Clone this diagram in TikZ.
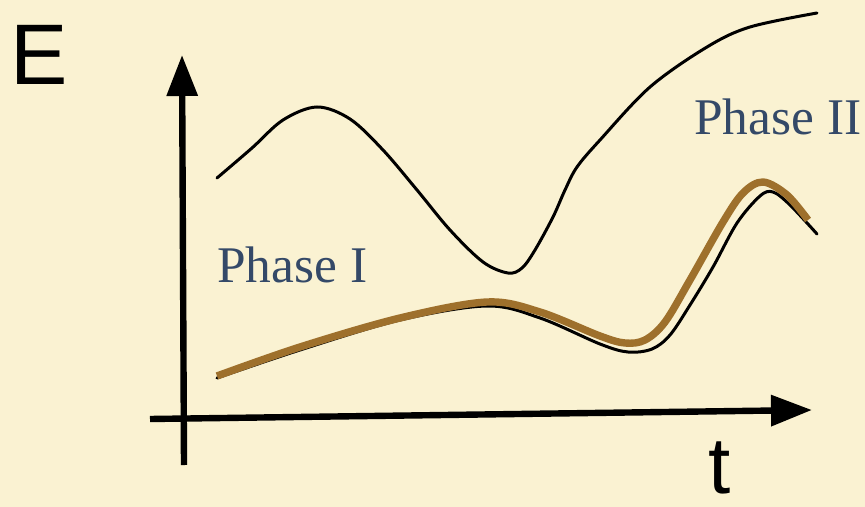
\documentclass[tikz,border=0pt]{standalone}
\usepackage{fontspec}
\setmainfont{Liberation Serif}
\newfontfamily\axisfont{Liberation Sans}
\usetikzlibrary{arrows.meta}
\definecolor{paper}{RGB}{250,242,210}
\definecolor{phaseblue}{RGB}{52,73,104}
\definecolor{pathbrown}{RGB}{158,112,44}
\tikzset{
  axis/.style={line width=3.2pt, -{Triangle[length=20.5pt,width=15pt]}},
  axislabel/.style={inner sep=0pt, text depth=0pt, font=\axisfont\fontsize{43}{50}\selectfont},
  phaselabel/.style={inner sep=0pt, anchor=base west, text=phaseblue, font=\fontsize{25.7}{30}\selectfont},
  energy/.style={line width=1.5pt, line cap=round, line join=round},
  actual/.style={line width=3.7pt, pathbrown, line join=round}
}
\begin{document}
\begin{tikzpicture}[x=0.5pt, y=-0.5pt]
  \fill[paper] (0,0) rectangle (865,507);
  \useasboundingbox (0,0) rectangle (865,507);
  \coordinate (Ebot) at (184,465);
  \coordinate (Etop) at (182,55);
  \coordinate (tleft) at (150,419);
  \coordinate (tright) at (812,410);
  \draw[axis] (Ebot) -- (Etop);
  \draw[axis] (tleft) -- (tright);
  \node[axislabel, anchor=base west] (E) at (10,85) {E};
  \node[axislabel, anchor=base, font=\axisfont\fontsize{40}{46}\selectfont] (t) at (720,493) {t};
  \node[phaselabel] (phaseI) at (217,282) {Phase I};
  \node[phaselabel] (phaseII) at (694,135) {Phase II};
  \draw[energy] plot[smooth, tension=0.55] coordinates {(217,178) (252,148) (283,120) (317,107) (350,119) (383,150) (417,190) (450,230) (483,262) (508,273) (522,268) (535,250) (553,217) (565,190) (577,167) (600,140) (650,87) (707,47) (750,27) (817,13)};
  \draw[energy] plot[smooth, tension=0.55] coordinates {(217,378) (300,350) (400,320) (487,306) (540,318) (600,344) (628,352) (652,349) (670,335) (690,305) (713,267) (737,223) (760,196) (773,192) (790,205) (817,234)};
  \draw[actual] plot[smooth, tension=0.55] coordinates {(217,376) (300,347) (400,318) (487,302) (540,312) (600,336) (625,343) (645,340) (665,322) (690,280) (723,222) (743,193) (763,182) (787,195) (808,220)};
\end{tikzpicture}
\end{document}
